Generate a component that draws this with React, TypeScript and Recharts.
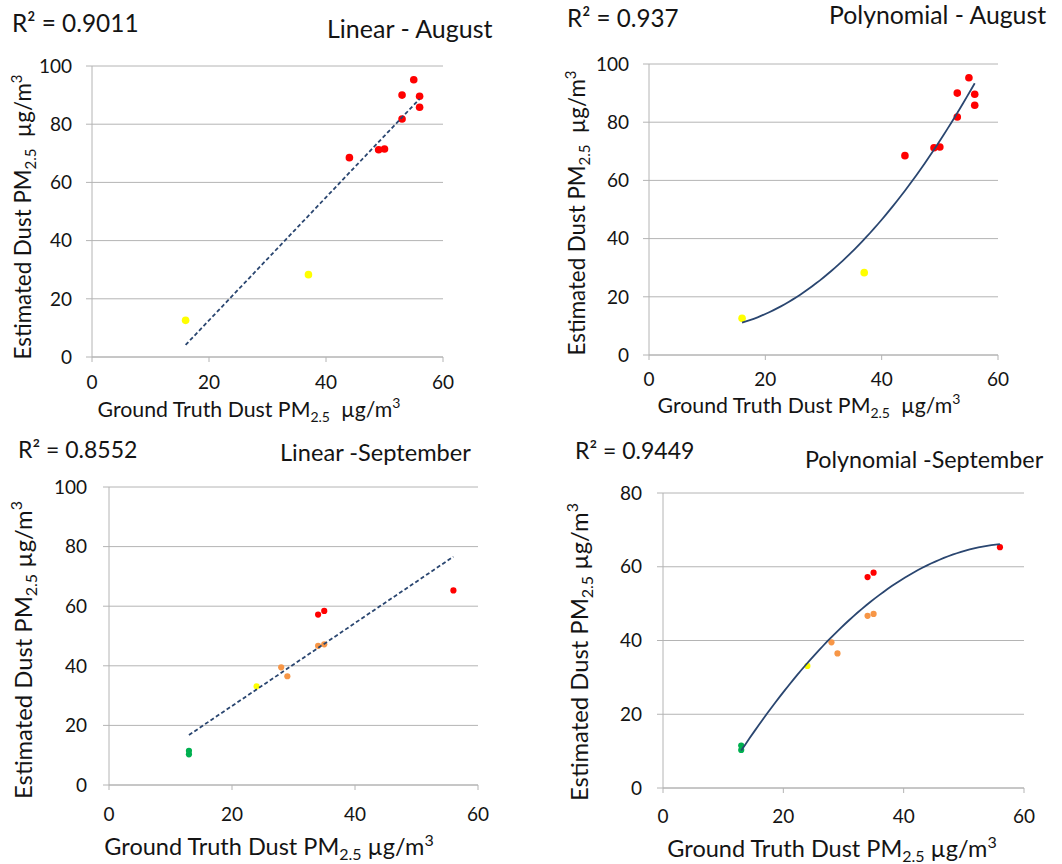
import React from "react";
import { ScatterChart, Scatter, XAxis, YAxis, CartesianGrid, Label } from "recharts";

const FONT = "Lato, 'Open Sans', sans-serif";
const INK = "#141414";
const GRID = "#b4b4b4";
const TREND = "#2a4670";

// August (ground truth x, estimated y)
const augYellowX = [16, 37];
const augYellowY = [12.6, 28.3];
const augRedX = [44, 49, 50, 53, 53, 55, 56, 56];
const augRedY = [68.5, 71.2, 71.5, 81.8, 90.0, 95.3, 89.6, 85.8];

// September
const sepGreenX = [13, 13];
const sepGreenY = [11.5, 10.3];
const sepYellowX = [24];
const sepYellowY = [33.1];
const sepOrangeX = [28, 29, 34, 35];
const sepOrangeY = [39.5, 36.5, 46.7, 47.2];
const sepRedX = [34, 35, 56];
const sepRedY = [57.2, 58.4, 65.3];

const xTicks = [0, 20, 40, 60];
const yTicks100 = [0, 20, 40, 60, 80, 100];
const yTicks80 = [0, 20, 40, 60, 80];

const r2Labels = ["R\u00b2 = 0.9011", "R\u00b2 = 0.937", "R\u00b2 = 0.8552", "R\u00b2 = 0.9449"];
const titles = ["Linear - August", "Polynomial - August", "Linear -September", "Polynomial -September"];

const colors = { red: "#ff0000", yellow: "#ffff00", orange: "#f79646", green: "#00b050" };

type Group = { xs: number[]; ys: number[]; color: string };

const augGroups: Group[] = [
  { xs: augYellowX, ys: augYellowY, color: colors.yellow },
  { xs: augRedX, ys: augRedY, color: colors.red },
];
const sepGroups: Group[] = [
  { xs: sepGreenX, ys: sepGreenY, color: colors.green },
  { xs: sepYellowX, ys: sepYellowY, color: colors.yellow },
  { xs: sepOrangeX, ys: sepOrangeY, color: colors.orange },
  { xs: sepRedX, ys: sepRedY, color: colors.red },
];

// least squares polynomial fit, like the spreadsheet trendline
function fitPoly(xs: number[], ys: number[], degree: number) {
  const n = degree + 1;
  const A = Array.from({ length: n }, () => Array(n + 1).fill(0));
  xs.forEach((x, i) => {
    for (let r = 0; r < n; r++) {
      for (let c = 0; c < n; c++) A[r][c] += Math.pow(x, r + c);
      A[r][n] += ys[i] * Math.pow(x, r);
    }
  });
  for (let k = 0; k < n; k++) {
    for (let r = k + 1; r < n; r++) {
      const f = A[r][k] / A[k][k];
      for (let c = k; c <= n; c++) A[r][c] -= f * A[k][c];
    }
  }
  const coef = Array(n).fill(0);
  for (let r = n - 1; r >= 0; r--) {
    let s = A[r][n];
    for (let c = r + 1; c < n; c++) s -= A[r][c] * coef[c];
    coef[r] = s / A[r][r];
  }
  return coef as number[];
}

function trendPoints(groups: Group[], degree: number) {
  const xs = groups.flatMap((g) => g.xs);
  const ys = groups.flatMap((g) => g.ys);
  const coef = fitPoly(xs, ys, degree);
  const lo = Math.min(...xs);
  const hi = Math.max(...xs);
  const steps = degree === 1 ? 1 : 60;
  const pts = [];
  for (let i = 0; i <= steps; i++) {
    const x = lo + ((hi - lo) * i) / steps;
    pts.push({ x, y: coef.reduce((s, c, k) => s + c * Math.pow(x, k), 0) });
  }
  return pts;
}

function AxisTitle({ x, y, fs, text, gap, vertical }: any) {
  const sub = Math.round(fs * 0.68);
  return (
    <text
      x={x}
      y={y}
      textAnchor="middle"
      fontSize={fs}
      fontFamily={FONT}
      fill={INK}
      transform={vertical ? `rotate(-90 ${x} ${y})` : undefined}
    >
      {text}PM
      <tspan fontSize={sub} dy={fs * 0.22}>2.5</tspan>
      <tspan dy={-fs * 0.22}>{gap}µg/m</tspan>
      <tspan fontSize={sub} dy={-fs * 0.4}>3</tspan>
    </text>
  );
}

interface PanelProps {
  box: { left: number; top: number; width: number; height: number };
  plot: { x0: number; x1: number; yTop: number; yBottom: number };
  yTicks: number[];
  groups: Group[];
  degree: number;
  dashed: boolean;
  radius: number;
  xTickMargin: number;
  yTickMargin: number;
  xTitleFs: number;
  yTitleFs: number;
  gap: string;
  xTitle: { cx: number; base: number };
  yTitle: { base: number; cy: number };
}

function Panel(p: PanelProps) {
  const { box, plot } = p;
  const yw = 50;
  const xh = 40;
  const margin = {
    top: plot.yTop - box.top,
    right: box.left + box.width - plot.x1,
    bottom: box.top + box.height - plot.yBottom - xh,
    left: plot.x0 - box.left - yw,
  };
  const trend = trendPoints(p.groups, p.degree);
  return (
    <div style={{ position: "absolute", left: box.left, top: box.top }}>
      <ScatterChart width={box.width} height={box.height} margin={margin}>
        <CartesianGrid vertical={false} stroke={GRID} />
        <XAxis
          type="number"
          dataKey="x"
          domain={[0, 60]}
          ticks={xTicks}
          height={xh}
          tickSize={5}
          tickMargin={p.xTickMargin}
          stroke={GRID}
          tick={{ fill: INK, fontSize: 19, fontFamily: FONT }}
        >
          <Label
            content={() => (
              <AxisTitle
                x={p.xTitle.cx - box.left}
                y={p.xTitle.base - box.top}
                fs={p.xTitleFs}
                text="Ground Truth Dust "
                gap={p.gap}
              />
            )}
          />
        </XAxis>
        <YAxis
          type="number"
          dataKey="y"
          domain={[0, p.yTicks[p.yTicks.length - 1]]}
          ticks={p.yTicks}
          width={yw}
          tickSize={6}
          tickMargin={p.yTickMargin}
          stroke={GRID}
          tick={{ fill: INK, fontSize: 19, fontFamily: FONT }}
        >
          <Label
            content={() => (
              <AxisTitle
                x={p.yTitle.base - box.left}
                y={p.yTitle.cy - box.top}
                fs={p.yTitleFs}
                text="Estimated Dust "
                gap={p.gap}
                vertical
              />
            )}
          />
        </YAxis>
        {p.groups.map((g, i) => (
          <Scatter
            key={i}
            data={g.xs.map((x, k) => ({ x, y: g.ys[k] }))}
            isAnimationActive={false}
            shape={(s: any) => <circle cx={s.cx} cy={s.cy} r={p.radius} fill={g.color} />}
          />
        ))}
        <Scatter
          data={trend}
          isAnimationActive={false}
          line={{ stroke: TREND, strokeWidth: 1.8, strokeDasharray: p.dashed ? "4 2.5" : undefined }}
          shape={() => <g />}
        />
      </ScatterChart>
    </div>
  );
}

const textStyle = (left: number, base: number, fs: number): React.CSSProperties => ({
  position: "absolute",
  left,
  top: base - fs * 0.887,
  fontSize: fs,
  lineHeight: 1,
  fontFamily: FONT,
  color: INK,
  whiteSpace: "nowrap",
});

export default function App() {
  return (
    <div style={{ position: "absolute", left: 0, top: 0, width: 1062, height: 864, background: "#fff", overflow: "hidden" }}>
      <Panel
        box={{ left: 0, top: 0, width: 530, height: 430 }}
        plot={{ x0: 92, x1: 443, yTop: 66, yBottom: 357 }}
        yTicks={yTicks100}
        groups={augGroups}
        degree={1}
        dashed
        radius={3.8}
        xTickMargin={14}
        yTickMargin={14}
        xTitleFs={21.3}
        yTitleFs={22.3}
        gap={"\u00a0\u00a0"}
        xTitle={{ cx: 249, base: 417 }}
        yTitle={{ base: 31, cy: 217 }}
      />
      <Panel
        box={{ left: 530, top: 0, width: 532, height: 430 }}
        plot={{ x0: 649, x1: 998, yTop: 64, yBottom: 355 }}
        yTicks={yTicks100}
        groups={augGroups}
        degree={2}
        dashed={false}
        radius={3.8}
        xTickMargin={13}
        yTickMargin={14}
        xTitleFs={21.3}
        yTitleFs={22.3}
        gap={"\u00a0\u00a0"}
        xTitle={{ cx: 809, base: 413 }}
        yTitle={{ base: 585, cy: 213 }}
      />
      <Panel
        box={{ left: 0, top: 430, width: 530, height: 434 }}
        plot={{ x0: 109, x1: 478, yTop: 487, yBottom: 785 }}
        yTicks={yTicks100}
        groups={sepGroups}
        degree={1}
        dashed
        radius={3.1}
        xTickMargin={18}
        yTickMargin={16}
        xTitleFs={23.5}
        yTitleFs={23.8}
        gap={" "}
        xTitle={{ cx: 269, base: 855 }}
        yTitle={{ base: 32, cy: 650 }}
      />
      <Panel
        box={{ left: 530, top: 430, width: 532, height: 434 }}
        plot={{ x0: 663, x1: 1024, yTop: 493, yBottom: 788 }}
        yTicks={yTicks80}
        groups={sepGroups}
        degree={2}
        dashed={false}
        radius={3.1}
        xTickMargin={17}
        yTickMargin={15}
        xTitleFs={23.5}
        yTitleFs={23.8}
        gap={" "}
        xTitle={{ cx: 832, base: 857 }}
        yTitle={{ base: 588, cy: 652 }}
      />
      <div style={textStyle(12, 33, 24.4)}>{r2Labels[0]}</div>
      <div style={textStyle(327, 38, 25)}>{titles[0]}</div>
      <div style={textStyle(567, 27, 24.2)}>{r2Labels[1]}</div>
      <div style={textStyle(829, 25, 24.8)}>{titles[1]}</div>
      <div style={textStyle(18, 458, 23)}>{r2Labels[2]}</div>
      <div style={textStyle(280, 462, 23.6)}>{titles[2]}</div>
      <div style={textStyle(575, 459, 23)}>{r2Labels[3]}</div>
      <div style={textStyle(805, 469, 23.3)}>{titles[3]}</div>
    </div>
  );
}
